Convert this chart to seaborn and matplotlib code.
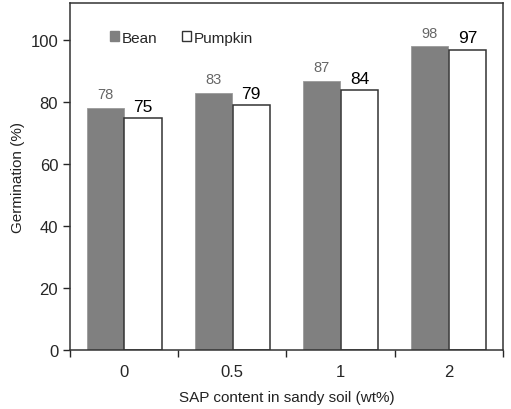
import numpy as np
import pandas as pd
import matplotlib
matplotlib.use("Agg")
import matplotlib.pyplot as plt
import seaborn as sns
from matplotlib.patches import Patch

# data
sap = ["0", "0.5", "1", "2"]
bean = [78, 83, 87, 98]
pumpkin = [75, 79, 84, 97]

df = pd.DataFrame({
    "SAP": sap * 2,
    "Germination": bean + pumpkin,
    "Crop": ["Bean"] * len(sap) + ["Pumpkin"] * len(sap),
})

sns.set_style("white")
plt.rcParams["font.family"] = ["Liberation Sans", "DejaVu Sans"]

fig = plt.figure(figsize=(5.11, 4.10), dpi=100)
ax = fig.add_axes([0.137, 0.144, 0.847, 0.846])

sns.barplot(data=df, x="SAP", y="Germination", hue="Crop",
            palette={"Bean": "#808080", "Pumpkin": "white"},
            width=0.7, gap=0.02, ax=ax, legend=False)

for p in ax.containers[1]:
    p.set_edgecolor("#333333")
    p.set_linewidth(1.1)
for p in ax.containers[0]:
    p.set_edgecolor("#9a9a9a")
    p.set_linewidth(0.6)

ax.bar_label(ax.containers[0], labels=[str(v) for v in bean], padding=5,
             fontsize=10.5, color="#666666")
ax.bar_label(ax.containers[1], labels=[str(v) for v in pumpkin], padding=3,
             fontsize=12.5, color="black")

ax.set_xlim(-0.5, 3.5)
ax.set_ylim(0, 112)
ax.set_yticks(np.arange(0, 101, 20))
ax.set_xticks(np.arange(-0.5, 3.6, 1.0), minor=True)
ax.tick_params(axis="x", which="major", length=0, pad=10, labelsize=12)
ax.tick_params(axis="x", which="minor", length=5, width=1, direction="out", bottom=True)
ax.tick_params(axis="y", length=5, width=1, direction="out", left=True, labelsize=12)

for s in ax.spines.values():
    s.set_color("#333333")
    s.set_linewidth(1.1)

ax.set_xlabel("SAP content in sandy soil (wt%)", fontsize=11, color="#222222", labelpad=8)
ax.set_ylabel("Germination (%)", fontsize=11, color="#222222", labelpad=4)

handles = [Patch(facecolor="#808080", edgecolor="#808080"),
           Patch(facecolor="white", edgecolor="#333333")]
ax.legend(handles, ["Bean", "Pumpkin"], loc="upper left", ncol=2, frameon=False,
          bbox_to_anchor=(0.06, 0.96), handlelength=0.6, handleheight=0.6,
          handletextpad=0.2, columnspacing=1.6, fontsize=11)

fig.savefig("out.png", dpi=100)
